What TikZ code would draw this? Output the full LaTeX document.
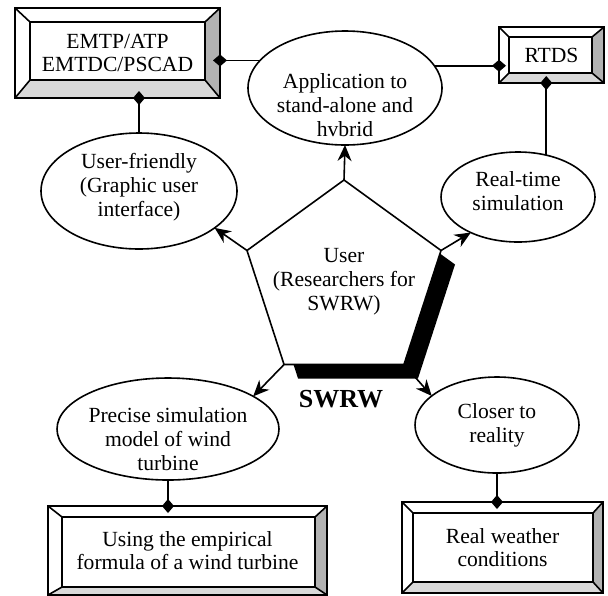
\documentclass[tikz,border=0pt]{standalone}
\usepackage{fontspec}
\setmainfont{Liberation Serif}
\usepackage{tikz}
\usetikzlibrary{arrows.meta,shapes.geometric,calc,shadows,positioning}

% text set inside an oval without widening it
\newcommand{\ovaltext}[2][-2.5pt]{\smash{\makebox[0pt]{\raisebox{#1}{\begin{tabular}{@{}c@{}}#2\end{tabular}}}}}

% bevelled frame round a slab node: name, left, top, right, bottom
\newcommand{\bevel}[5]{%
  \coordinate (#1nw) at ($(#1.north west)+(#2,#3)$);
  \coordinate (#1se) at ($(#1.south east)+(-#4,-#5)$);
  \fill[bevel dark] (#1.north east) -- (#1.south east) -- (#1se) -- (#1nw -| #1se) -- cycle;
  \fill[bevel light] (#1.south west) -- (#1.south east) -- (#1se) -- (#1nw |- #1se) -- cycle;
  \draw (#1.north west) rectangle (#1.south east);
  \draw (#1nw) rectangle (#1se);
  \draw (#1.north west) -- (#1nw) (#1.north east) -- (#1nw -| #1se)
        (#1.south east) -- (#1se) (#1.south west) -- (#1nw |- #1se);
}

\begin{document}
\begin{tikzpicture}[x=0.5pt,y=-0.5pt,line width=0.8pt,
    every node/.style={font=\fontsize{10.8}{11.9}\selectfont,inner sep=0pt,outer sep=0pt},
    oval/.style={draw,ellipse},
    slab/.style={rectangle,align=center},
    penta/.style={draw,fill=white,regular polygon,regular polygon sides=5,minimum size=102pt,
        drop shadow={shadow xshift=7pt,shadow yshift=-7pt,fill=black,opacity=1}},
    bevel dark/.style={fill=gray!60},
    bevel light/.style={fill=gray!30},
    push/.style={-{Stealth[length=8pt,width=7pt]}},
    link/.style={-{Diamond[length=7pt,width=6pt]},shorten >=-3.5pt}]
    \useasboundingbox (0,0) rectangle (608,595);

    \node[slab,minimum width=102.5pt,minimum height=45pt] (emtp)    at (117.5,53)  {EMTP/ATP\\EMTDC/PSCAD};
    \node[slab,minimum width=52.5pt,minimum height=28pt]  (rtds)    at (551.5,55)  {RTDS};
    \node[slab,minimum width=139.5pt,minimum height=44.5pt] (using) at (187.5,550.5) {Using the empirical\\formula of a wind turbine};
    \node[slab,minimum width=100.5pt,minimum height=45.5pt] (weather) at (502.5,547.5) {Real weather\\conditions};
    \bevel{emtp}{15}{14}{15}{18}
    \bevel{rtds}{10}{10}{12}{10}
    \bevel{using}{14}{11}{12}{8}
    \bevel{weather}{11}{11}{10}{11}

    \node[oval,minimum width=97pt,minimum height=57pt] (app) at (345,88)  {\ovaltext[-12.5pt]{Application to\\stand-alone and\\hvbrid}};
    \node[oval,minimum width=98pt,minimum height=58pt] (uf)  at (139,191) {\ovaltext[-1pt]{User-friendly\\(Graphic user\\interface)}};
    \node[oval,minimum width=77pt,minimum height=45pt] (rt)  at (518,197) {\ovaltext[-1pt]{Real-time\\simulation}};
    \node[oval,minimum width=111pt,minimum height=51pt] (ps) at (168,429) {\ovaltext[-9pt]{Precise simulation\\model of wind\\turbine}};
    \node[oval,minimum width=82pt,minimum height=48pt] (cr)  at (497,425) {\ovaltext[-3pt]{Closer to\\reality}};

    \node[penta] (user) at (344,282) {\ovaltext{User\\(Researchers for\\SWRW)}};
    \node[font=\bfseries\fontsize{13}{14}\selectfont] (swrw) at (341,399) {SWRW};

    \draw[push] (user.corner 1) -- (app.south);
    \draw[push] (user.corner 2) -- (uf.-26);
    \draw[push] (user.corner 5) -- (rt.217);
    \draw[push] (user.corner 3) -- (ps.21);
    \draw[push] (user.corner 4) -- (cr.156);

    \draw[link] (app.162) -- (app.162 -| emtp.east);
    \draw[link] (app.14) -- (app.14 -| rtds.west);
    \draw[link] (uf.north) -- (uf.north |- emtp.south);
    \draw[link] (rt.56) -- (rt.56 |- rtds.south);
    \draw[link] (ps.south) -- (ps.south |- using.north);
    \draw[link] (cr.south) -- (cr.south |- weather.north);
\end{tikzpicture}
\end{document}
